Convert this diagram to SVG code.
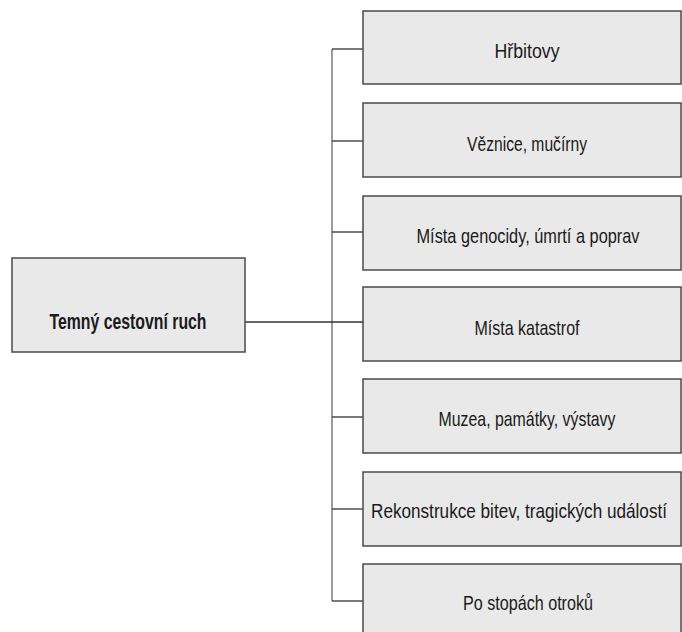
<svg xmlns="http://www.w3.org/2000/svg" width="682" height="632" viewBox="0 0 682 632">
  <style>
    .box { fill: #e9e9e9; stroke: #4a4a4a; stroke-width: 1.5; }
    .label { font-family: "Liberation Sans", Arial, sans-serif; font-size: 21px; fill: #1a1a1a; text-anchor: middle; }
    .root { font-weight: bold; font-size: 22px; }
    .trunk { stroke: #7a7a7a; stroke-width: 1.5; fill: none; }
    .branch { stroke: #333; stroke-width: 1.3; fill: none; }
  </style>
  <rect width="682" height="632" fill="#ffffff"/>

  <!-- connectors -->
  <g id="connectors">
    <line class="trunk" x1="332" y1="49" x2="332" y2="601"/>
    <line class="branch" x1="245" y1="322" x2="363" y2="322"/>
    <line class="branch" x1="332" y1="49" x2="363" y2="49"/>
    <line class="branch" x1="332" y1="141" x2="363" y2="141"/>
    <line class="branch" x1="332" y1="232" x2="363" y2="232"/>
    <line class="branch" x1="332" y1="417" x2="363" y2="417"/>
    <line class="branch" x1="332" y1="509" x2="363" y2="509"/>
    <line class="branch" x1="332" y1="601" x2="363" y2="601"/>
  </g>

  <!-- root node -->
  <g id="root">
    <rect class="box" x="12" y="258" width="233" height="94"/>
    <text class="label root" x="128" y="329" textLength="157" lengthAdjust="spacingAndGlyphs">Temný cestovní ruch</text>
  </g>

  <!-- category nodes -->
  <g id="n1">
    <rect class="box" x="363" y="11" width="318" height="73"/>
    <text class="label" x="527" y="58" textLength="65" lengthAdjust="spacingAndGlyphs">Hřbitovy</text>
  </g>
  <g id="n2">
    <rect class="box" x="363" y="103" width="318" height="74"/>
    <text class="label" x="527" y="151" textLength="120" lengthAdjust="spacingAndGlyphs">Věznice, mučírny</text>
  </g>
  <g id="n3">
    <rect class="box" x="363" y="196" width="318" height="74"/>
    <text class="label" x="528" y="243" textLength="223" lengthAdjust="spacingAndGlyphs">Místa genocidy, úmrtí a poprav</text>
  </g>
  <g id="n4">
    <rect class="box" x="363" y="287" width="318" height="74"/>
    <text class="label" x="527" y="335" textLength="105" lengthAdjust="spacingAndGlyphs">Místa katastrof</text>
  </g>
  <g id="n5">
    <rect class="box" x="363" y="379" width="318" height="74"/>
    <text class="label" x="527" y="426" textLength="177" lengthAdjust="spacingAndGlyphs">Muzea, památky, výstavy</text>
  </g>
  <g id="n6">
    <rect class="box" x="363" y="472" width="318" height="74"/>
    <text class="label" x="519" y="518" textLength="296" lengthAdjust="spacingAndGlyphs">Rekonstrukce bitev, tragických událostí</text>
  </g>
  <g id="n7">
    <rect class="box" x="363" y="564" width="318" height="76"/>
    <text class="label" x="528" y="610" textLength="130" lengthAdjust="spacingAndGlyphs">Po stopách otroků</text>
  </g>
</svg>
